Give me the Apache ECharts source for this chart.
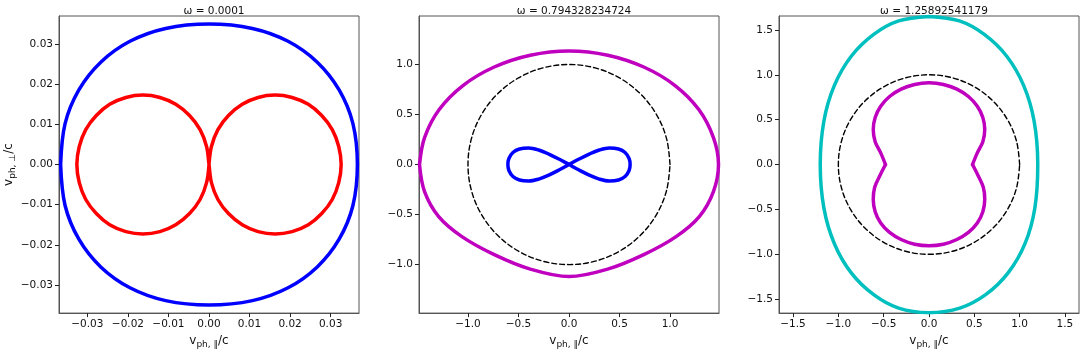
<!DOCTYPE html>
<html>
<head>
<meta charset="utf-8">
<script src="https://cdn.jsdelivr.net/npm/echarts@6/dist/echarts.min.js"></script>
<style>
  html, body { margin: 0; padding: 0; background: #fff; }
  #chart { width: 1084px; height: 354px; }
</style>
</head>
<body>
<div id="chart"></div>
<script>
// panel titles
const titles = ["ω = 0.0001", "ω = 0.794328234724", "ω = 1.25892541179"];

// tick labels per panel
const ticks1 = [-0.03, -0.02, -0.01, 0.0, 0.01, 0.02, 0.03];
const ticks2 = [-1.0, -0.5, 0.0, 0.5, 1.0];
const ticks3 = [-1.5, -1.0, -0.5, 0.0, 0.5, 1.0, 1.5];

// panel 1 curves, blue starts on the left spine
const blue1 = [
  [-0.0366, 0], [-0.0355, -0.0102], [-0.0321, -0.0186], [-0.0267, -0.0255], [-0.0195, -0.0307],
  [-0.0107, -0.0339], [0, -0.035], [0.0107, -0.0339], [0.0195, -0.0307], [0.0267, -0.0255],
  [0.0321, -0.0186], [0.0355, -0.0102], [0.0366, 0], [0.0355, 0.0102], [0.0321, 0.0186],
  [0.0267, 0.0255], [0.0195, 0.0307], [0.0107, 0.0339], [0, 0.035], [-0.0107, 0.0339],
  [-0.0195, 0.0307], [-0.0267, 0.0255], [-0.0321, 0.0186], [-0.0355, 0.0102], [-0.0366, 0]
];
const red1 = [
  [0, 0], [0.0006, 0.0045], [0.0022, 0.0087], [0.0048, 0.0122], [0.0082, 0.015],
  [0.0121, 0.0167], [0.0163, 0.0173], [0.0205, 0.0167], [0.0245, 0.015], [0.0278, 0.0122],
  [0.0304, 0.0087], [0.032, 0.0045], [0.0326, 0],
  [0.032, -0.0045], [0.0304, -0.0087], [0.0278, -0.0122], [0.0245, -0.015], [0.0205, -0.0167],
  [0.0163, -0.0173], [0.0121, -0.0167], [0.0082, -0.015], [0.0048, -0.0122], [0.0022, -0.0087],
  [0.0006, -0.0045], [0, 0],
  [-0.0006, 0.0045], [-0.0022, 0.0087], [-0.0048, 0.0122], [-0.0082, 0.015],
  [-0.0121, 0.0167], [-0.0163, 0.0173], [-0.0205, 0.0167], [-0.0245, 0.015], [-0.0278, 0.0122],
  [-0.0304, 0.0087], [-0.032, 0.0045], [-0.0326, 0],
  [-0.032, -0.0045], [-0.0304, -0.0087], [-0.0278, -0.0122], [-0.0245, -0.015], [-0.0205, -0.0167],
  [-0.0163, -0.0173], [-0.0121, -0.0167], [-0.0082, -0.015], [-0.0048, -0.0122], [-0.0022, -0.0087],
  [-0.0006, -0.0045], [0, 0]
];

// panel 2 curves, magenta starts on the left spine
const magenta2 = [
  [-1.48, 0], [-1.43, -0.27], [-1.29, -0.52], [-1.06, -0.72], [-0.74, -0.9], [-0.383, -1.045],
  [0, -1.12], [0.383, -1.045], [0.74, -0.9], [1.06, -0.72], [1.29, -0.52], [1.43, -0.27],
  [1.48, 0], [1.43, 0.27], [1.285, 0.55], [1.05, 0.79], [0.74, 0.975], [0.383, 1.093],
  [0, 1.135], [-0.383, 1.093], [-0.74, 0.975], [-1.05, 0.79], [-1.285, 0.55], [-1.43, 0.27],
  [-1.48, 0]
];
const blue2 = [
  [0, 0], [0.1, 0.055], [0.2, 0.105], [0.3, 0.145], [0.4, 0.165], [0.49, 0.155],
  [0.555, 0.12], [0.595, 0.06], [0.605, 0], [0.595, -0.06], [0.555, -0.12], [0.49, -0.155],
  [0.4, -0.165], [0.3, -0.145], [0.2, -0.105], [0.1, -0.055], [0, 0],
  [-0.1, 0.055], [-0.2, 0.105], [-0.3, 0.145], [-0.4, 0.165], [-0.49, 0.155],
  [-0.555, 0.12], [-0.595, 0.06], [-0.605, 0], [-0.595, -0.06], [-0.555, -0.12], [-0.49, -0.155],
  [-0.4, -0.165], [-0.3, -0.145], [-0.2, -0.105], [-0.1, -0.055], [0, 0]
];

// dashed reference circle |v| = c (panels 2 and 3)
const unitCircle = [
  [1, 0], [0.966, 0.259], [0.866, 0.5], [0.707, 0.707], [0.5, 0.866], [0.259, 0.966],
  [0, 1], [-0.259, 0.966], [-0.5, 0.866], [-0.707, 0.707], [-0.866, 0.5], [-0.966, 0.259],
  [-1, 0], [-0.966, -0.259], [-0.866, -0.5], [-0.707, -0.707], [-0.5, -0.866], [-0.259, -0.966],
  [0, -1], [0.259, -0.966], [0.5, -0.866], [0.707, -0.707], [0.866, -0.5], [0.966, -0.259], [1, 0]
];

// panel 3 curves, cyan starts on the top spine
const cyan3 = [
  [0, 1.65], [0.335, 1.6], [0.61, 1.45], [0.86, 1.204], [1.045, 0.879], [1.16, 0.483],
  [1.2, 0], [1.168, -0.483], [1.06, -0.879], [0.875, -1.204], [0.625, -1.45], [0.34, -1.6],
  [0, -1.65], [-0.335, -1.6], [-0.61, -1.45], [-0.86, -1.204], [-1.045, -0.879], [-1.16, -0.483],
  [-1.2, 0], [-1.16, 0.483], [-1.045, 0.879], [-0.86, 1.204], [-0.61, 1.45], [-0.335, 1.6],
  [0, 1.65]
];
// magenta peanut, split at the two waist kinks
const magenta3Top = [
  [0.48, 0], [0.533, 0.13], [0.594, 0.255], [0.615, 0.39], [0.594, 0.525], [0.533, 0.65],
  [0.435, 0.758], [0.3075, 0.84], [0.159, 0.892], [0, 0.91], [-0.159, 0.892], [-0.3075, 0.84],
  [-0.435, 0.758], [-0.533, 0.65], [-0.594, 0.525], [-0.615, 0.39], [-0.594, 0.255],
  [-0.533, 0.13], [-0.48, 0]
];
const magenta3Bottom = [
  [-0.48, 0], [-0.54, -0.12], [-0.6, -0.255], [-0.615, -0.39], [-0.594, -0.525], [-0.533, -0.65],
  [-0.435, -0.755], [-0.3075, -0.835], [-0.159, -0.888], [0, -0.905], [0.159, -0.888], [0.3075, -0.835],
  [0.435, -0.755], [0.533, -0.65], [0.594, -0.525], [0.615, -0.39], [0.6, -0.255],
  [0.54, -0.12], [0.48, 0]
];

const myChart = echarts.init(document.getElementById("chart"), null, { renderer: "canvas" });

const lefts = [59, 419, 779];
const ranges = [0.037, 1.485, 1.655];
const tickSets = [ticks1, ticks2, ticks3];
const digits = [2, 1, 1];

function fmt(d) {
  return function(v) {
    return v.toFixed(d).replace("-", "\u2212");
  };
}

const nameRich = {
  v: { fontSize: 12, fontFamily: "DejaVu Sans", color: "#111" },
  s: { fontSize: 9, fontFamily: "DejaVu Sans", color: "#111", padding: [7, 0, 0, 0] }
};

function axis(i, isX) {
  const r = ranges[i];
  const a = {
    type: "value",
    gridIndex: i,
    min: -r,
    max: r,
    splitLine: { show: false },
    axisLine: { show: true, onZero: false, lineStyle: { color: "#555", width: 1 } },
    axisTick: {
      show: true, inside: false, length: 4,
      customValues: tickSets[i],
      lineStyle: { color: "#222" }
    },
    axisLabel: {
      customValues: tickSets[i],
      formatter: fmt(digits[i]),
      color: "#111",
      fontSize: 10.5,
      fontFamily: "DejaVu Sans",
      margin: 6
    }
  };
  if (isX) {
    a.name = "{v|v}{s|ph, \u2225}{v|/c}";
    a.nameLocation = "middle";
    a.nameGap = 17;
    a.nameTextStyle = { color: "#111", fontFamily: "DejaVu Sans", rich: nameRich };
  } else if (i === 0) {
    a.name = "{v|v}{s|ph, \u22a5}{v|/c}";
    a.nameLocation = "middle";
    a.nameGap = 42;
    a.nameRotate = 90;
    a.nameTextStyle = { color: "#111", fontFamily: "DejaVu Sans", rich: nameRich };
  }
  return a;
}

function curve(i, data, color, width, dashed) {
  return {
    type: "line",
    xAxisIndex: i,
    yAxisIndex: i,
    data: data,
    smooth: 0.35,
    showSymbol: false,
    clip: true,
    animation: false,
    lineStyle: {
      color: color,
      width: width,
      cap: "round",
      join: "round",
      type: dashed ? [5, 3] : "solid"
    }
  };
}

const option = {
  animation: false,
  title: titles.map(function(t, i) {
    return {
      text: t,
      left: lefts[i] + 150,
      top: 1,
      textAlign: "center",
      textStyle: { fontSize: 10.5, fontWeight: "normal", color: "#111", fontFamily: "DejaVu Sans" }
    };
  }),
  grid: lefts.map(function(l) {
    return { left: l, top: 16, width: 300, height: 300, show: true, borderColor: "#555", borderWidth: 1, backgroundColor: "#fff" };
  }),
  xAxis: [axis(0, true), axis(1, true), axis(2, true)],
  yAxis: [axis(0, false), axis(1, false), axis(2, false)],
  series: [
    curve(0, blue1, "#0000ff", 3.5, false),
    curve(0, red1, "#ff0000", 3.5, false),
    curve(1, magenta2, "#bf00bf", 3.5, false),
    curve(1, unitCircle, "#000", 1.4, true),
    curve(1, blue2, "#0000ff", 3.5, false),
    curve(2, cyan3, "#00bfbf", 3.5, false),
    curve(2, unitCircle, "#000", 1.4, true),
    curve(2, magenta3Top, "#bf00bf", 3.5, false),
    curve(2, magenta3Bottom, "#bf00bf", 3.5, false)
  ]
};

myChart.setOption(option);
</script>
</body>
</html>
